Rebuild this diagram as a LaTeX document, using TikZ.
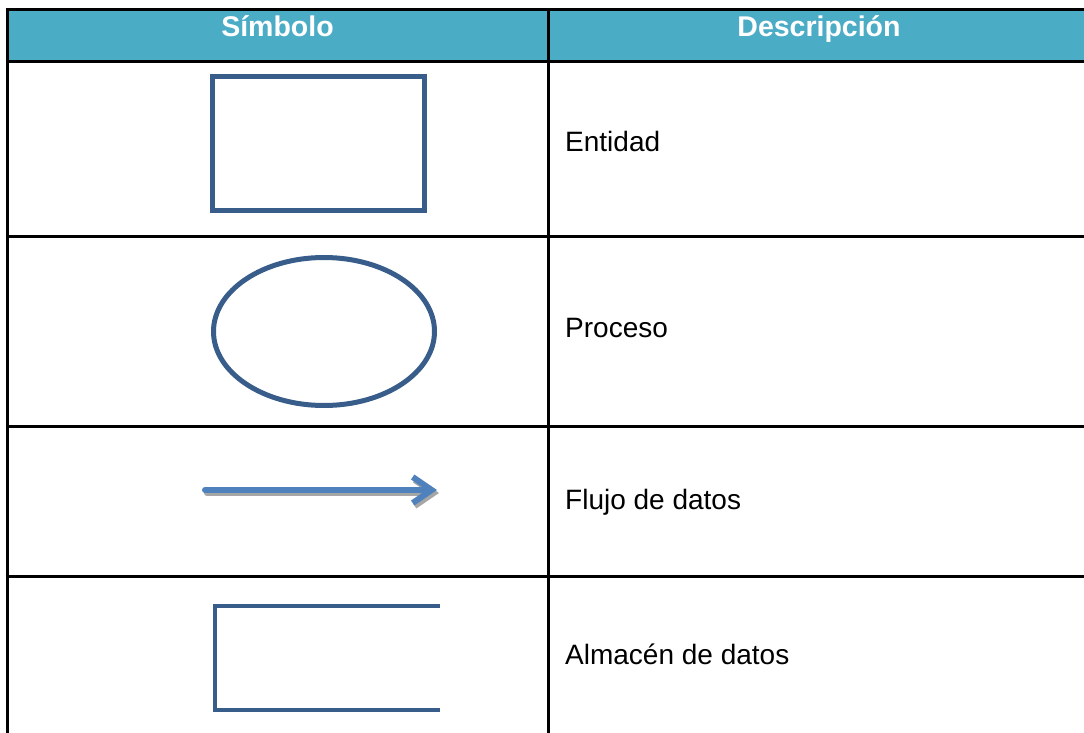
\documentclass[tikz,border=0pt]{standalone}
\usepackage{fontspec}
\setmainfont{Liberation Sans}
\usetikzlibrary{shapes.geometric,arrows.meta,positioning}

\definecolor{headaqua}{HTML}{4BACC6}
\definecolor{shapeblue}{HTML}{385D8A}
\definecolor{flowblue}{HTML}{4F81BD}

\tikzset{
  grid line/.style={line width=3pt},
  head/.style={anchor=base, inner sep=0pt, text=white, font=\fontsize{28.5}{34}\selectfont\bfseries},
  desc/.style={anchor=base west, inner sep=0pt, font=\fontsize{28}{34}\selectfont},
  symbol/.style={draw=shapeblue, line width=5pt, inner sep=0pt},
  flow/.style={line width=6pt, line cap=round, line join=round, -{Straight Barb[length=19pt,width=26pt]}},
}

\begin{document}
\begin{tikzpicture}[x=1pt,y=-1pt]
    \useasboundingbox (0,0) rectangle (1084,733);
    \clip (0,0) rectangle (1084,733);

    % header row
    \fill[headaqua] (7,10) rectangle (1090,62);
    \node[head] (simbolo) at (277.5,37) {Símbolo};
    \node[head] (descripcion) at (819,37) {Descripción};

    % table lines
    \foreach \y in {10,62,236,426,576}
      \draw[grid line] (5.5,\y) -- (1092,\y);
    \foreach \x in {7,548,1090}
      \draw[grid line] (\x,8.5) -- (\x,740);

    % symbols
    \node[symbol, minimum width=212pt, minimum height=134pt] (entidad) at (318.5,143.5) {};
    \node[symbol, ellipse, minimum width=221pt, minimum height=148pt] (proceso) at (324,331.5) {};

    \coordinate (flujo start) at (205,490);
    \coordinate (flujo end) at (437,490);
    \draw[flow, gray!70] ([shift={(2,3)}]flujo start) -- ([shift={(2,3)}]flujo end); % shadow
    \draw[flow, flowblue] (flujo start) -- (flujo end);

    \coordinate (almacen ne) at (440,606);
    \coordinate (almacen nw) at (215,606);
    \coordinate (almacen sw) at (215,710);
    \coordinate (almacen se) at (440,710);
    \draw[symbol, line width=4.5pt] (almacen ne) -- (almacen nw) -- (almacen sw) -- (almacen se);

    % descriptions
    \node[desc] (entidad text) at (565,152) {Entidad};
    \node[desc] (proceso text) at (565,337) {Proceso};
    \node[desc] (flujo text) at (565,509) {Flujo de datos};
    \node[desc] (almacen text) at (565,664) {Almacén de datos};
\end{tikzpicture}
\end{document}
